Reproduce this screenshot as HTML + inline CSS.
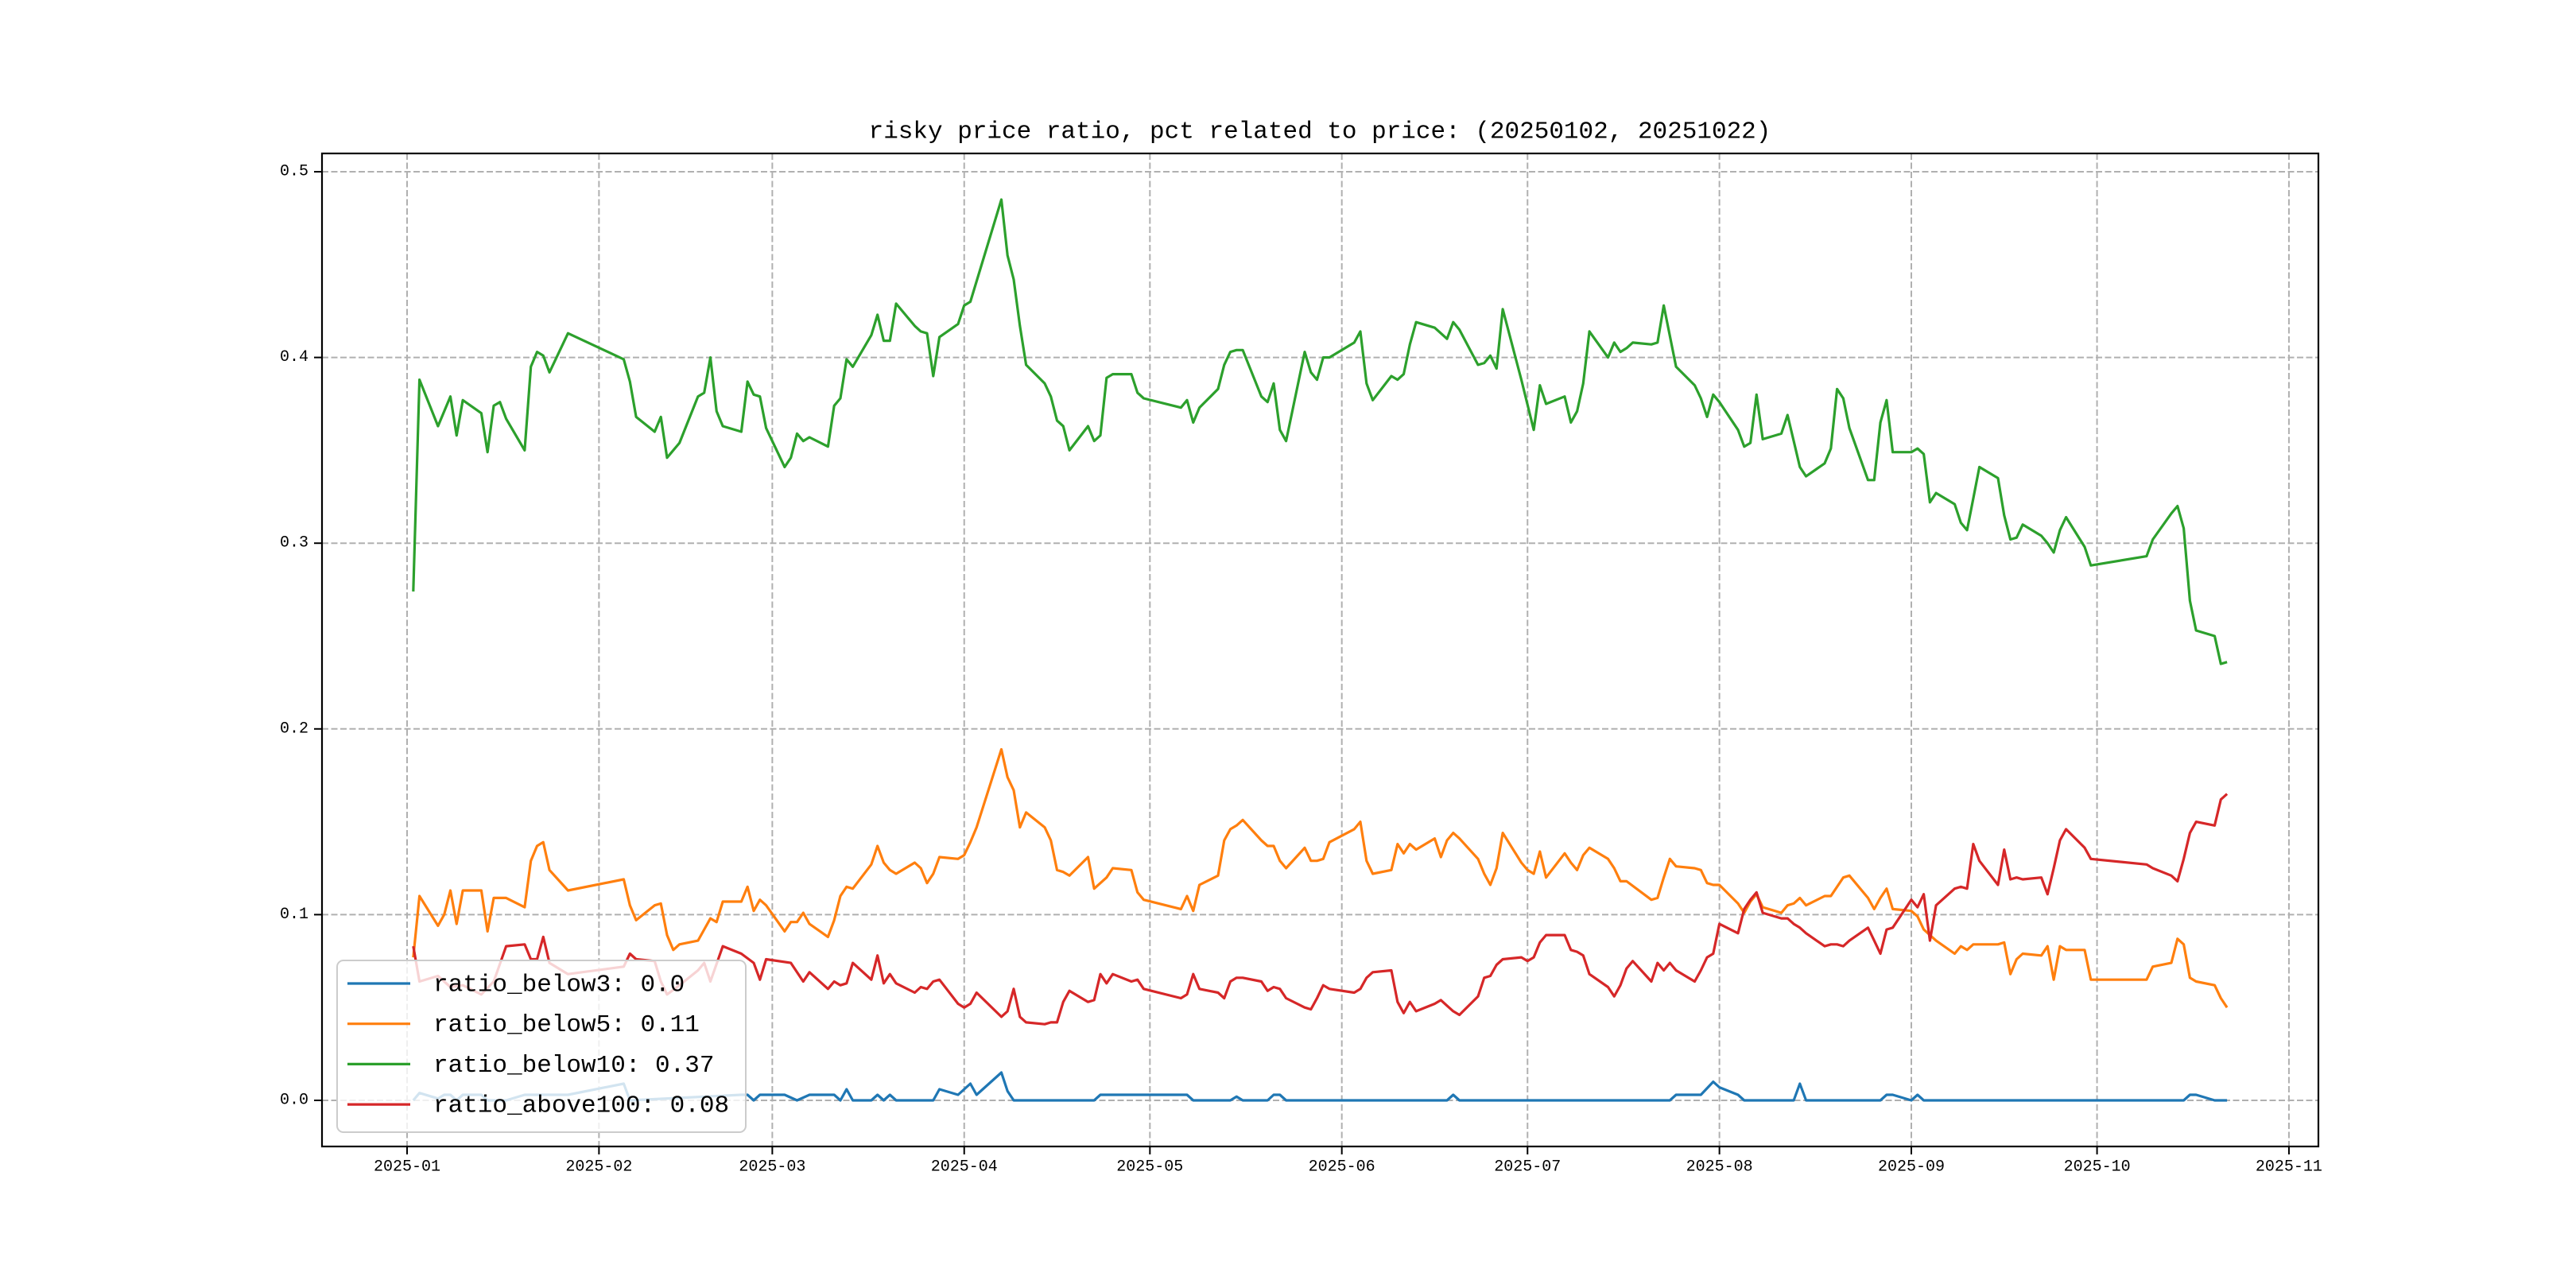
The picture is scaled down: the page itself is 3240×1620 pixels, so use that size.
<!DOCTYPE html>
<html><head><meta charset="utf-8"><title>risky price ratio</title>
<style>
html,body{margin:0;padding:0;background:#fff;}
svg{display:block;}
text{font-family:"Liberation Mono","Noto Sans CJK SC",monospace;fill:#000;}
</style></head>
<body>
<svg id="chart" width="3240" height="1620" viewBox="0 0 3240 1620" xmlns="http://www.w3.org/2000/svg">
<rect x="0" y="0" width="3240" height="1620" fill="#fff"/>
<text x="1660" y="166" font-size="31" text-anchor="middle" dominant-baseline="central">risky price ratio, pct related to price: (20250102, 20251022)</text>
<g id="grid"></g>
<g id="series"></g>
<rect x="405" y="193" width="2511" height="1249" fill="none" stroke="#000" stroke-width="2.2"/>
<g id="ticks"></g>
<g id="legend"></g>
</svg>
<script>
const yTicks = [0.0, 0.1, 0.2, 0.3, 0.4, 0.5];
const yTickLabels = ["0.0", "0.1", "0.2", "0.3", "0.4", "0.5"];
const xTicks = ["01-01","02-01","03-01","04-01","05-01","06-01","07-01","08-01","09-01","10-01","11-01"];
const xTickLabels = ["2025-01","2025-02","2025-03","2025-04","2025-05","2025-06","2025-07","2025-08","2025-09","2025-10","2025-11"];
const seriesNames = ["ratio_below3", "ratio_below5", "ratio_below10", "ratio_above100"];
const legendValues = ["0.0", "0.11", "0.37", "0.08"];

const below10Dates = ["01-02","01-03","01-06","01-08","01-09","01-10","01-13","01-14","01-15","01-16","01-17","01-20","01-21","01-22","01-23","01-24","01-27","02-05","02-06","02-07","02-10","02-11","02-12","02-14","02-17","02-18","02-19","02-20","02-21","02-24","02-25","02-26","02-27","02-28","03-03","03-04","03-05","03-06","03-07","03-10","03-11","03-12","03-13","03-14","03-17","03-18","03-19","03-20","03-21","03-24","03-25","03-26","03-27","03-28","03-31","04-01","04-02","04-07","04-08","04-09","04-10","04-11","04-14","04-15","04-16","04-17","04-18","04-21","04-22","04-23","04-24","04-25","04-28","04-29","04-30","05-06","05-07","05-08","05-09","05-12","05-13","05-14","05-15","05-16","05-19","05-20","05-21","05-22","05-23","05-26","05-27","05-28","05-29","05-30","06-03","06-04","06-05","06-06","06-09","06-10","06-11","06-12","06-13","06-16","06-17","06-18","06-19","06-20","06-23","06-24","06-25","06-26","06-27","06-30","07-02","07-03","07-04","07-07","07-08","07-09","07-10","07-11","07-14","07-15","07-16","07-17","07-18","07-21","07-22","07-23","07-25","07-28","07-29","07-30","07-31","08-01","08-04","08-05","08-06","08-07","08-08","08-11","08-12","08-13","08-14","08-15","08-18","08-19","08-20","08-21","08-22","08-25","08-26","08-27","08-28","08-29","09-01","09-02","09-03","09-04","09-05","09-08","09-09","09-10","09-11","09-12","09-15","09-16","09-17","09-18","09-19","09-22","09-23","09-24","09-25","09-26","09-29","09-30","10-09","10-10","10-13","10-14","10-15","10-16","10-17","10-20","10-21","10-22"];
const below10Values = [.274,.388,.363,.379,.358,.377,.370,.349,.374,.376,.367,.350,.395,.403,.401,.392,.413,.399,.387,.368,.360,.368,.346,.354,.379,.381,.400,.371,.363,.360,.387,.380,.379,.362,.341,.346,.359,.355,.357,.352,.374,.378,.399,.395,.412,.423,.409,.409,.429,.417,.414,.413,.390,.411,.418,.428,.430,.485,.455,.442,.417,.396,.386,.379,.366,.363,.350,.363,.355,.358,.389,.391,.391,.381,.378,.373,.377,.365,.373,.383,.396,.403,.404,.404,.379,.376,.386,.361,.355,.403,.392,.388,.400,.400,.408,.414,.386,.377,.390,.388,.391,.407,.419,.416,.413,.410,.419,.415,.396,.397,.401,.394,.426,.388,.361,.385,.375,.379,.365,.371,.386,.414,.400,.408,.403,.405,.408,.407,.408,.428,.395,.385,.378,.368,.380,.376,.361,.352,.354,.380,.356,.359,.369,.355,.341,.336,.343,.351,.383,.378,.362,.334,.334,.365,.377,.349,.349,.351,.348,.322,.327,.321,.311,.307,.324,.341,.335,.315,.302,.303,.310,.304,.300,.295,.307,.314,.298,.288,.293,.302,.316,.320,.308,.269,.253,.250,.235,.236];

const below5Dates = ["01-02","01-03","01-06","01-07","01-08","01-09","01-10","01-13","01-14","01-15","01-16","01-17","01-20","01-21","01-22","01-23","01-24","01-27","02-05","02-06","02-07","02-10","02-11","02-12","02-13","02-14","02-17","02-18","02-19","02-20","02-21","02-24","02-25","02-26","02-27","02-28","03-03","03-04","03-05","03-06","03-07","03-10","03-11","03-12","03-13","03-14","03-17","03-18","03-19","03-20","03-21","03-24","03-25","03-26","03-27","03-28","03-31","04-01","04-02","04-03","04-07","04-08","04-09","04-10","04-11","04-14","04-15","04-16","04-17","04-18","04-21","04-22","04-23","04-24","04-25","04-28","04-29","04-30","05-06","05-07","05-08","05-09","05-12","05-13","05-14","05-15","05-16","05-19","05-20","05-21","05-22","05-23","05-26","05-27","05-28","05-29","05-30","06-03","06-04","06-05","06-06","06-09","06-10","06-11","06-12","06-13","06-16","06-17","06-18","06-19","06-20","06-23","06-24","06-25","06-26","06-27","06-30","07-01","07-02","07-03","07-04","07-07","07-08","07-09","07-10","07-11","07-14","07-15","07-16","07-17","07-21","07-22","07-23","07-24","07-25","07-28","07-29","07-30","07-31","08-01","08-04","08-05","08-06","08-07","08-08","08-11","08-12","08-13","08-14","08-15","08-18","08-19","08-20","08-21","08-22","08-25","08-26","08-27","08-28","08-29","09-01","09-02","09-03","09-04","09-05","09-08","09-09","09-10","09-11","09-12","09-15","09-16","09-17","09-18","09-19","09-22","09-23","09-24","09-25","09-26","09-29","09-30","10-09","10-10","10-13","10-14","10-15","10-16","10-17","10-20","10-21","10-22"];
const below5Values = [.077,.110,.094,.100,.113,.095,.113,.113,.091,.109,.109,.109,.104,.129,.137,.139,.124,.113,.119,.105,.097,.105,.106,.089,.081,.084,.086,.092,.098,.096,.107,.107,.115,.102,.108,.105,.091,.096,.096,.101,.095,.088,.097,.110,.115,.114,.127,.137,.128,.124,.122,.128,.125,.117,.122,.131,.130,.132,.139,.147,.189,.174,.167,.147,.155,.147,.140,.124,.123,.121,.131,.114,.117,.120,.125,.124,.112,.108,.103,.110,.102,.116,.121,.140,.146,.148,.151,.140,.137,.137,.129,.125,.136,.129,.129,.130,.139,.146,.150,.129,.122,.124,.138,.133,.138,.135,.141,.131,.140,.144,.141,.130,.122,.116,.125,.144,.128,.124,.122,.134,.120,.133,.128,.124,.132,.136,.130,.125,.118,.118,.108,.109,.120,.130,.126,.125,.124,.117,.116,.116,.106,.101,.107,.111,.104,.101,.105,.106,.109,.105,.110,.110,.115,.120,.121,.109,.103,.109,.114,.103,.102,.099,.092,.089,.086,.079,.083,.081,.084,.084,.084,.085,.068,.076,.079,.078,.083,.065,.083,.081,.081,.065,.065,.072,.074,.087,.084,.066,.064,.062,.055,.050];

const above100Dates = ["01-02","01-03","01-06","01-08","01-10","01-13","01-15","01-17","01-20","01-21","01-22","01-23","01-24","01-27","02-05","02-06","02-07","02-10","02-11","02-12","02-14","02-17","02-18","02-19","02-21","02-24","02-26","02-27","02-28","03-04","03-06","03-07","03-10","03-11","03-12","03-13","03-14","03-17","03-18","03-19","03-20","03-21","03-24","03-25","03-26","03-27","03-28","03-31","04-01","04-02","04-03","04-07","04-08","04-09","04-10","04-11","04-14","04-15","04-16","04-17","04-18","04-21","04-22","04-23","04-24","04-25","04-28","04-29","04-30","05-06","05-07","05-08","05-09","05-12","05-13","05-14","05-15","05-16","05-19","05-20","05-21","05-22","05-23","05-26","05-27","05-28","05-29","05-30","06-03","06-04","06-05","06-06","06-09","06-10","06-11","06-12","06-13","06-16","06-17","06-18","06-19","06-20","06-23","06-24","06-25","06-26","06-27","06-30","07-01","07-02","07-03","07-04","07-07","07-08","07-09","07-10","07-11","07-14","07-15","07-16","07-17","07-18","07-21","07-22","07-23","07-24","07-25","07-28","07-29","07-30","07-31","08-01","08-04","08-05","08-06","08-07","08-08","08-11","08-12","08-13","08-14","08-15","08-18","08-19","08-20","08-21","08-22","08-25","08-26","08-27","08-28","08-29","09-01","09-02","09-03","09-04","09-05","09-08","09-09","09-10","09-11","09-12","09-15","09-16","09-17","09-18","09-19","09-22","09-23","09-24","09-25","09-26","09-29","09-30","10-09","10-10","10-13","10-14","10-15","10-16","10-17","10-20","10-21","10-22"];
const above100Values = [.083,.064,.067,.061,.062,.057,.064,.083,.084,.076,.076,.088,.074,.068,.072,.079,.076,.075,.064,.057,.062,.070,.074,.064,.083,.079,.074,.065,.076,.074,.064,.069,.060,.064,.062,.063,.074,.065,.078,.063,.068,.063,.058,.061,.060,.064,.065,.052,.050,.052,.058,.045,.048,.060,.045,.042,.041,.042,.042,.053,.059,.053,.054,.068,.063,.068,.064,.065,.060,.055,.057,.068,.060,.058,.055,.064,.066,.066,.064,.059,.061,.060,.055,.050,.049,.055,.062,.060,.058,.060,.066,.069,.070,.053,.047,.053,.048,.052,.054,.051,.048,.046,.056,.066,.067,.073,.076,.077,.075,.077,.085,.089,.089,.081,.080,.078,.068,.061,.056,.062,.071,.075,.064,.074,.070,.074,.070,.064,.070,.077,.079,.095,.090,.103,.108,.112,.101,.098,.098,.095,.093,.090,.083,.084,.084,.083,.086,.093,.086,.079,.092,.093,.108,.104,.111,.086,.105,.114,.115,.114,.138,.129,.116,.135,.119,.120,.119,.120,.111,.125,.140,.146,.136,.130,.127,.125,.121,.118,.130,.144,.150,.148,.162,.165];

const below3Dates = ["01-02","01-03","01-06","01-07","01-08","01-09","01-10","01-13","01-14","01-17","01-20","01-27","02-05","02-06","02-24","02-25","02-26","02-27","03-03","03-05","03-07","03-11","03-12","03-13","03-14","03-17","03-18","03-19","03-20","03-21","03-27","03-28","03-31","04-02","04-03","04-07","04-08","04-09","04-22","04-23","05-07","05-08","05-14","05-15","05-16","05-20","05-21","05-22","05-23","06-18","06-19","06-20","07-24","07-25","07-29","07-31","08-01","08-04","08-05","08-13","08-14","08-15","08-27","08-28","08-29","09-01","09-02","09-03","10-15","10-16","10-17","10-20","10-21","10-22"];
const below3Values = [0,.004,.001,.003,.003,0,.003,.003,0,0,.003,.003,.009,0,.003,.003,0,.003,.003,0,.003,.003,0,.006,0,0,.003,0,.003,0,0,.006,.003,.009,.003,.015,.005,0,0,.003,.003,0,0,.002,0,0,.003,.003,0,0,.003,0,0,.003,.003,.010,.007,.003,0,0,.009,0,0,.003,.003,0,.003,0,0,.003,.003,0,0,0];

const colors = ["#1f77b4", "#ff7f0e", "#2ca02c", "#d62728"];

const NS = "http://www.w3.org/2000/svg";
const AX = {left:405, top:193, right:2916, bottom:1442};
const X0 = 512, PX_PER_DAY = 7.786;
const Y0 = 1384, PX_PER_UNIT = 2336;
function dayOf(md){ const p = md.split("-"); return (Date.UTC(2025, +p[0]-1, +p[1]) - Date.UTC(2025,0,1)) / 86400000; }
function xScale(md){ return X0 + dayOf(md) * PX_PER_DAY; }
function yScale(v){ return Y0 - v * PX_PER_UNIT; }
function mk(tag, attrs, parent){ const e = document.createElementNS(NS, tag); for (const k in attrs) e.setAttribute(k, attrs[k]); parent.appendChild(e); return e; }

const grid = document.getElementById("grid");
const ticks = document.getElementById("ticks");
yTicks.forEach((v, i) => {
  const y = yScale(v);
  const gl = mk("line", {x1:AX.left, x2:AX.right, y1:y, y2:y, stroke:"#b0b0b0", "stroke-width":2, "stroke-dasharray":"8,3.5"}, grid);
  
  
  const tk = mk("line", {x1:AX.left-10, x2:AX.left, y1:y, y2:y, stroke:"#000", "stroke-width":2}, ticks);
  
  
  const t = mk("text", {x:AX.left-17, y:y, "font-size":20, "text-anchor":"end", "dominant-baseline":"central"}, ticks);
  t.textContent = yTickLabels[i];
  
  
});
xTicks.forEach((md, i) => {
  const x = xScale(md);
  const gl = mk("line", {x1:x, x2:x, y1:AX.top, y2:AX.bottom, stroke:"#b0b0b0", "stroke-width":2, "stroke-dasharray":"8,3.5"}, grid);
  
  
  const tk = mk("line", {x1:x, x2:x, y1:AX.bottom, y2:AX.bottom+10, stroke:"#000", "stroke-width":2}, ticks);
  
  
  const t = mk("text", {x:x, y:1468, "font-size":20, "text-anchor":"middle", "dominant-baseline":"central"}, ticks);
  t.textContent = xTickLabels[i];
  
  
});

const seriesLayer = document.getElementById("series");
const seriesDates = [below3Dates, below5Dates, below10Dates, above100Dates];
const seriesValues = [below3Values, below5Values, below10Values, above100Values];
seriesDates.forEach((dates, s) => {
  const vals = seriesValues[s];
  const pts = dates.map((d, i) => xScale(d).toFixed(1) + "," + yScale(vals[i]).toFixed(1)).join(" ");
  const pl = mk("polyline", {points:pts, fill:"none", stroke:colors[s], "stroke-width":3.2, "stroke-linejoin":"round"}, seriesLayer);
  
  
});

const legend = document.getElementById("legend");
const box = mk("rect", {x:424, y:1208, width:514, height:216, rx:8, ry:8, fill:"#fff", "fill-opacity":0.8, stroke:"#cccccc", "stroke-width":2}, legend);


seriesNames.forEach((name, i) => {
  const y = 1237 + i * 50.7;
  const g = mk("g", {}, legend);
  
  
  mk("line", {x1:437, x2:516, y1:y, y2:y, stroke:colors[i], "stroke-width":3.2}, g);
  const t = mk("text", {x:545, y:y+2, "font-size":31, "dominant-baseline":"central"}, g);
  t.textContent = name + ": " + legendValues[i];
  
  
});
</script>
</body></html>
